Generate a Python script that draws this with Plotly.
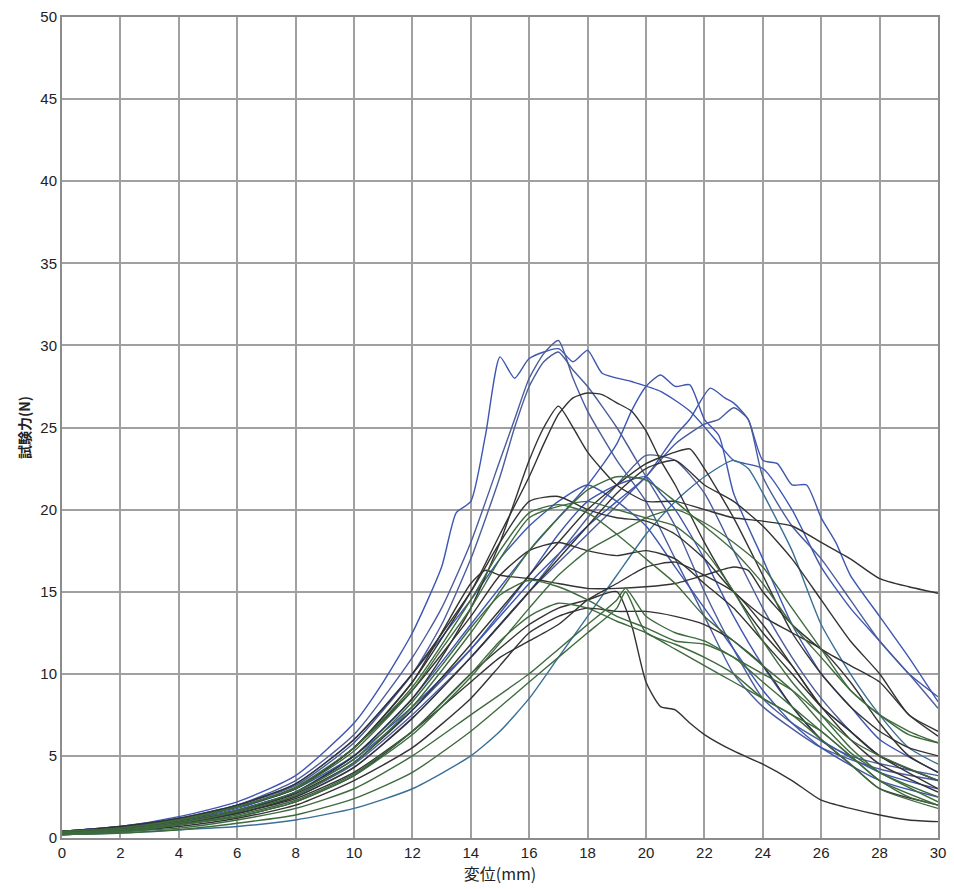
import plotly.graph_objects as go

# ---------------- data ----------------
x_ticks = list(range(0, 31, 2))
y_ticks = list(range(0, 51, 5))

blue1_x = [0, 2, 4, 6, 8, 10, 11, 12, 13, 13.5, 14, 14.5, 15, 15.5, 16, 17, 17.5, 18, 18.5, 19.5, 20.5, 21.5, 22.5, 23, 24, 25, 26, 27, 28, 29, 30]
blue1_y = [0.4, 0.7, 1.3, 2.2, 3.8, 7.0, 9.5, 12.5, 16.5, 19.8, 20.5, 24.5, 29.3, 28.0, 29.2, 29.8, 29.0, 29.7, 28.3, 27.8, 27.2, 26.0, 24.0, 23.0, 22.5, 20.0, 16.5, 14.0, 12.0, 10.0, 8.6]

blue2_x = [0, 2, 4, 6, 8, 10, 12, 13, 14, 15, 15.5, 16, 16.5, 17, 17.5, 18, 19, 20, 21, 22, 23, 24, 26, 28, 30]
blue2_y = [0.3, 0.5, 1.1, 2.0, 3.5, 6.3, 11.0, 14.0, 18.0, 23.0, 25.5, 28.0, 29.5, 30.3, 28.0, 26.0, 23.0, 20.5, 17.0, 13.5, 10.0, 8.0, 5.5, 4.2, 3.5]

blue3_x = [0, 2, 4, 6, 8, 10, 12, 14, 16, 17, 18, 19, 19.5, 20, 20.5, 21, 21.5, 22, 22.5, 23, 24, 25, 26, 27, 28, 30]
blue3_y = [0.3, 0.5, 0.9, 1.6, 2.8, 5.0, 8.5, 13.0, 17.5, 19.5, 21.5, 24.0, 26.0, 27.5, 28.2, 27.5, 27.6, 25.5, 24.5, 21.0, 17.0, 13.0, 10.0, 8.0, 6.0, 4.0]

blue4_x = [0, 2, 4, 6, 8, 10, 12, 14, 16, 18, 19, 20, 21, 21.5, 22.2, 22.7, 23, 23.5, 24, 24.5, 25, 25.5, 26, 26.5, 27, 28, 29, 30]
blue4_y = [0.3, 0.5, 1.0, 1.8, 3.0, 5.0, 8.0, 11.5, 15.5, 19.0, 20.5, 22.0, 24.5, 25.5, 27.4, 26.8, 26.5, 25.5, 23.0, 22.8, 21.5, 21.5, 19.5, 18.0, 16.0, 13.5, 11.0, 8.3]

blue5_x = [0, 2, 4, 6, 8, 10, 12, 14, 16, 18, 20, 21, 22, 22.5, 23, 23.5, 24, 25, 26, 27, 28, 29, 30]
blue5_y = [0.2, 0.4, 0.8, 1.5, 2.5, 4.3, 7.3, 11.0, 15.0, 18.5, 22.0, 24.0, 25.2, 25.5, 26.2, 25.5, 22.0, 19.0, 17.0, 14.5, 12.0, 10.0, 7.9]

blue6_x = [0, 2, 4, 6, 8, 10, 12, 13, 14, 15, 15.5, 16, 16.5, 17, 17.5, 18, 19, 20, 21, 22, 23, 24, 25, 27, 30]
blue6_y = [0.4, 0.7, 1.2, 2.0, 3.2, 5.8, 10.0, 13.0, 17.0, 22.0, 25.0, 27.5, 29.0, 29.6, 28.5, 27.5, 25.0, 22.0, 19.0, 15.0, 11.5, 8.5, 7.0, 5.0, 3.8]

blue7_x = [0, 2, 4, 6, 8, 10, 12, 14, 15, 16, 17, 18, 19, 20, 21, 22, 23, 23.5, 24, 25, 26, 27, 28, 29, 30]
blue7_y = [0.2, 0.3, 0.5, 0.7, 1.1, 1.8, 3.0, 5.0, 6.5, 8.5, 11.0, 13.5, 16.0, 18.5, 20.5, 22.0, 23.0, 22.5, 21.0, 17.5, 13.0, 10.0, 7.5, 5.5, 4.5]

blue8_x = [0, 2, 4, 6, 8, 10, 12, 14, 16, 17, 18, 19, 20, 20.5, 21, 22, 23, 24, 25, 26, 28, 30]
blue8_y = [0.3, 0.5, 1.0, 1.7, 2.8, 4.8, 7.8, 11.5, 16.0, 18.5, 20.5, 21.5, 22.0, 21.0, 20.0, 17.0, 13.5, 10.5, 8.0, 6.0, 4.0, 3.0]

blue9_x = [0, 2, 4, 6, 8, 10, 12, 14, 16, 18, 19, 20, 21, 22, 23, 24, 25, 26, 27, 28, 30]
blue9_y = [0.3, 0.5, 0.9, 1.6, 2.6, 4.5, 7.5, 11.0, 15.0, 19.5, 21.5, 23.3, 23.0, 21.0, 17.5, 14.0, 11.0, 8.5, 6.5, 5.0, 3.5]

blue10_x = [0, 2, 4, 6, 8, 10, 12, 14, 15, 16, 17, 18, 19, 20, 21, 22, 23, 24, 25, 26, 28, 30]
blue10_y = [0.4, 0.7, 1.1, 2.0, 3.3, 6.0, 10.0, 14.5, 17.0, 19.0, 20.5, 21.5, 20.5, 19.0, 16.5, 14.0, 11.5, 9.0, 7.0, 5.5, 3.5, 2.5]

dark1_x = [0, 2, 4, 6, 8, 10, 12, 14, 15, 16, 16.5, 17, 17.5, 18, 18.5, 19, 19.5, 20, 20.5, 21, 22, 23, 24, 25, 26, 27, 28, 30]
dark1_y = [0.4, 0.6, 1.1, 1.9, 3.0, 5.5, 9.5, 15.0, 18.5, 22.0, 24.0, 25.8, 26.8, 27.1, 27.0, 26.5, 26.0, 24.8, 23.0, 21.5, 18.0, 15.0, 12.5, 10.5, 8.0, 6.5, 5.0, 3.5]

dark2_x = [0, 2, 4, 6, 8, 10, 12, 13, 14, 15, 15.5, 16, 16.5, 17, 17.5, 18, 19, 20, 21, 22, 23, 24, 25, 26, 27, 28, 29, 30]
dark2_y = [0.3, 0.5, 1.0, 1.7, 2.8, 5.0, 8.5, 11.0, 14.0, 18.0, 20.5, 23.0, 25.0, 26.3, 25.0, 23.5, 21.5, 20.5, 20.5, 20.0, 19.5, 19.3, 19.0, 18.0, 17.0, 15.8, 15.3, 14.9]

dark3_x = [0, 2, 4, 6, 8, 10, 12, 14, 16, 18, 19, 20, 21, 22, 23, 24, 25, 26, 27, 28, 29, 30]
dark3_y = [0.3, 0.5, 0.9, 1.5, 2.5, 4.3, 7.3, 11.0, 15.0, 19.0, 21.0, 22.5, 23.0, 21.5, 20.5, 19.0, 17.0, 14.5, 12.0, 10.0, 7.5, 6.5]

dark4_x = [0, 2, 4, 6, 8, 10, 12, 13, 14, 14.5, 15, 16, 17, 18, 19, 20, 21, 22, 23, 23.5, 24, 25, 26, 27, 28, 29, 30]
dark4_y = [0.4, 0.6, 1.1, 1.9, 3.0, 5.5, 9.5, 12.5, 15.5, 16.3, 16.0, 15.8, 15.5, 15.2, 15.2, 15.3, 15.5, 16.0, 16.5, 16.3, 15.0, 13.0, 11.5, 10.5, 9.5, 7.5, 6.2]

dark5_x = [0, 2, 4, 6, 8, 10, 12, 14, 16, 17, 18, 19, 19.5, 20, 20.5, 21, 21.5, 22, 23, 24, 25, 26, 27, 28, 29, 30]
dark5_y = [0.3, 0.4, 0.8, 1.3, 2.2, 3.8, 6.5, 10.0, 13.0, 14.0, 14.5, 15.0, 13.0, 9.5, 8.0, 7.8, 7.0, 6.3, 5.3, 4.5, 3.5, 2.3, 1.8, 1.4, 1.1, 1.0]

dark6_x = [0, 2, 4, 6, 8, 10, 12, 14, 15, 16, 17, 18, 19, 20, 21, 22, 23, 24, 25, 26, 27, 28, 30]
dark6_y = [0.4, 0.6, 1.1, 1.9, 3.0, 5.5, 9.0, 13.5, 16.0, 17.5, 18.0, 17.5, 17.2, 17.5, 17.0, 15.5, 14.0, 12.0, 10.0, 8.0, 6.5, 5.0, 3.0]

dark7_x = [0, 2, 4, 6, 8, 10, 12, 14, 15, 16, 17, 18, 19, 20, 21, 22, 23, 24, 25, 26, 27, 28, 30]
dark7_y = [0.3, 0.4, 0.7, 1.2, 2.0, 3.5, 5.5, 8.5, 10.5, 12.5, 13.5, 14.0, 13.8, 13.8, 13.5, 13.0, 12.0, 10.5, 8.0, 6.0, 4.5, 3.0, 2.0]

dark8_x = [0, 2, 4, 6, 8, 10, 12, 14, 15, 16, 17, 18, 19, 20, 21, 22, 23, 24, 25, 26, 27, 28, 29, 30]
dark8_y = [0.4, 0.7, 1.2, 2.0, 3.3, 6.0, 10.0, 15.0, 18.0, 20.5, 20.8, 20.0, 19.5, 19.3, 18.5, 17.0, 15.0, 13.5, 12.5, 11.5, 9.5, 7.0, 5.0, 4.0]

dark9_x = [0, 2, 4, 6, 8, 10, 12, 14, 16, 17, 18, 19, 20, 21, 21.5, 22, 23, 24, 25, 26, 27, 28, 29, 30]
dark9_y = [0.3, 0.5, 1.0, 1.6, 2.7, 4.6, 7.8, 11.8, 16.0, 18.0, 20.0, 21.5, 22.8, 23.5, 23.7, 22.5, 19.5, 16.0, 12.5, 10.0, 8.0, 6.5, 5.5, 5.0]

dark10_x = [0, 2, 4, 6, 8, 10, 12, 14, 15, 16, 17, 18, 19, 20, 21, 22, 23, 24, 25, 26, 27, 28, 30]
dark10_y = [0.3, 0.5, 0.9, 1.5, 2.4, 4.0, 6.5, 9.5, 11.0, 12.0, 13.0, 14.5, 15.5, 16.5, 16.8, 16.0, 15.0, 13.0, 10.5, 8.0, 6.0, 4.5, 2.8]

green1_x = [0, 2, 4, 6, 8, 10, 12, 14, 15, 16, 17, 18, 19, 20, 21, 22, 23, 24, 25, 26, 27, 28, 29, 30]
green1_y = [0.3, 0.5, 0.9, 1.6, 2.6, 4.6, 8.0, 12.5, 15.0, 17.5, 19.5, 21.2, 22.0, 21.8, 20.5, 19.0, 17.5, 15.5, 13.0, 11.0, 9.0, 7.5, 6.3, 5.8]

green2_x = [0, 2, 4, 6, 8, 10, 12, 13, 14, 15, 16, 17, 18, 19, 20, 21, 22, 23, 24, 25, 26, 27, 28, 30]
green2_y = [0.4, 0.6, 1.1, 1.9, 3.0, 5.3, 9.0, 11.5, 14.0, 17.0, 19.5, 20.2, 20.5, 20.0, 19.5, 19.0, 17.5, 15.0, 12.0, 9.5, 7.5, 5.5, 4.0, 2.5]

green3_x = [0, 2, 4, 6, 8, 10, 12, 14, 16, 17, 18, 19, 19.3, 20, 21, 22, 23, 24, 25, 26, 27, 28, 30]
green3_y = [0.2, 0.4, 0.6, 1.1, 1.8, 3.0, 5.0, 7.5, 10.0, 11.5, 13.0, 14.5, 15.2, 13.5, 12.5, 12.0, 11.0, 10.0, 9.0, 7.5, 6.0, 5.0, 3.5]

green4_x = [0, 2, 4, 6, 8, 10, 12, 13, 14, 15, 16, 17, 18, 19, 20, 21, 22, 23, 24, 25, 26, 27, 28, 30]
green4_y = [0.3, 0.5, 1.0, 1.7, 2.8, 4.8, 8.3, 10.5, 12.8, 14.8, 15.7, 15.3, 14.5, 13.5, 12.8, 12.0, 11.8, 11.0, 9.5, 8.0, 6.5, 5.0, 3.5, 2.0]

green5_x = [0, 2, 4, 6, 8, 10, 12, 14, 15, 16, 17, 18, 19, 20, 21, 22, 23, 24, 25, 26, 27, 28, 29, 30]
green5_y = [0.3, 0.4, 0.8, 1.4, 2.3, 3.9, 6.5, 10.0, 12.0, 13.5, 14.3, 14.0, 13.2, 12.5, 11.5, 10.5, 9.5, 8.5, 7.5, 6.5, 5.0, 3.5, 2.5, 2.0]

green6_x = [0, 2, 4, 6, 8, 10, 12, 14, 16, 17, 18, 19, 19.3, 20, 21, 22, 23, 24, 25, 26, 27, 28, 30]
green6_y = [0.2, 0.3, 0.5, 0.9, 1.4, 2.4, 4.0, 6.5, 9.5, 11.0, 12.5, 14.0, 15.0, 12.5, 11.8, 11.0, 10.0, 8.5, 7.5, 6.0, 4.5, 3.0, 1.8]

green7_x = [0, 2, 4, 6, 8, 10, 12, 14, 16, 17, 18, 19, 20, 21, 22, 23, 24, 25, 26, 27, 28, 29, 30]
green7_y = [0.3, 0.4, 0.8, 1.3, 2.2, 3.8, 6.3, 9.8, 14.0, 16.0, 17.5, 18.5, 19.5, 20.0, 19.2, 18.0, 16.5, 14.0, 11.5, 9.0, 7.5, 6.5, 5.8]

green8_x = [0, 2, 4, 6, 8, 10, 12, 14, 15, 16, 17, 18, 19, 20, 21, 22, 23, 24, 25, 26, 27, 28, 30]
green8_y = [0.4, 0.6, 1.1, 1.9, 3.1, 5.5, 9.2, 14.5, 17.5, 19.8, 20.3, 19.8, 18.5, 17.0, 15.5, 13.5, 12.0, 10.5, 9.0, 7.0, 5.2, 4.0, 2.2]

blue_color = "#3d56b2"
blue_grey = "#4b5c9c"
dark_color = "#333333"
green_color = "#3e6b3e"

curves = [
    (blue1_x, blue1_y, blue_color), (blue2_x, blue2_y, blue_grey),
    (blue3_x, blue3_y, blue_color), (blue4_x, blue4_y, blue_color),
    (blue5_x, blue5_y, blue_grey), (blue6_x, blue6_y, blue_grey),
    (blue7_x, blue7_y, "#3a6f96"), (blue8_x, blue8_y, blue_color),
    (blue9_x, blue9_y, blue_grey), (blue10_x, blue10_y, blue_color),
    (dark1_x, dark1_y, dark_color), (dark2_x, dark2_y, dark_color),
    (dark3_x, dark3_y, dark_color), (dark4_x, dark4_y, dark_color),
    (dark5_x, dark5_y, dark_color), (dark6_x, dark6_y, dark_color),
    (dark7_x, dark7_y, dark_color), (dark8_x, dark8_y, dark_color),
    (dark9_x, dark9_y, dark_color), (dark10_x, dark10_y, dark_color),
    (green1_x, green1_y, green_color), (green2_x, green2_y, green_color),
    (green3_x, green3_y, green_color), (green4_x, green4_y, green_color),
    (green5_x, green5_y, green_color), (green6_x, green6_y, green_color),
    (green7_x, green7_y, green_color), (green8_x, green8_y, green_color),
]

fig = go.Figure()
for xs, ys, col in curves:
    fig.add_trace(go.Scatter(
        x=xs, y=ys, mode="lines",
        line=dict(color=col, width=1.4, shape="spline", smoothing=0.6),
        showlegend=False, hoverinfo="skip",
    ))

axis_common = dict(
    showgrid=True, gridcolor="#a0a0a0", gridwidth=1.6,
    showline=True, linecolor="#8c8c8c", linewidth=2, mirror=True,
    zeroline=False, ticks="",
    tickfont=dict(family="Liberation Sans, Arial, sans-serif", size=15, color="#222222"),
)

fig.update_xaxes(
    range=[0, 30], tickvals=x_ticks, **axis_common,
    title=dict(text="変位(mm)", standoff=6,
               font=dict(family="Noto Sans CJK JP", size=16, color="#222222")),
)
fig.update_yaxes(
    range=[0, 50], tickvals=y_ticks, **axis_common,
    title=dict(text="<b>試験力(N)</b>", standoff=6,
               font=dict(family="Noto Sans CJK JP", size=14, color="#222222")),
)

fig.update_layout(
    width=954, height=889,
    margin=dict(l=62, r=8, t=8, b=51),
    paper_bgcolor="white", plot_bgcolor="white",
)

fig.write_html("out.html")
